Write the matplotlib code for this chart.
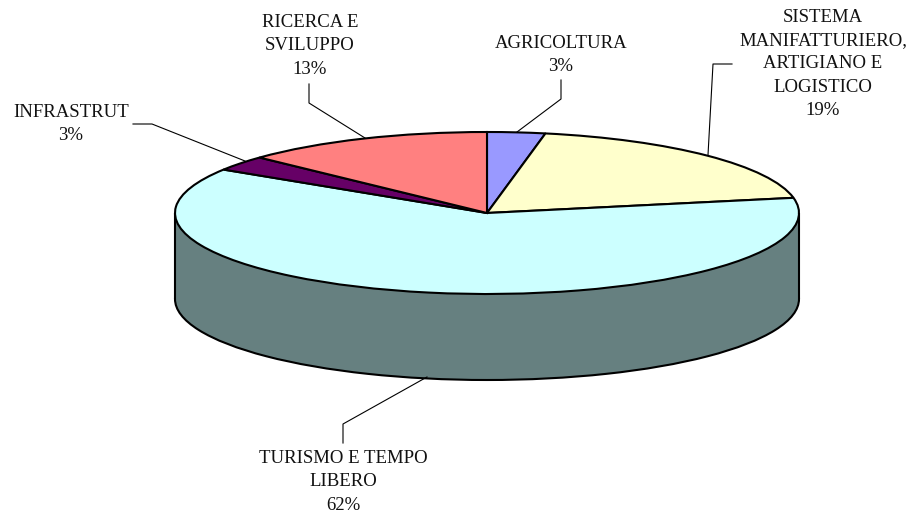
#!/usr/bin/env python3
import matplotlib
matplotlib.use('Agg')
import matplotlib.pyplot as plt
from matplotlib.patches import Rectangle

W, H = 916, 521
DPI = 100

categories = ['AGRICOLTURA', 'SISTEMA\nMANIFATTURIERO,\nARTIGIANO E\nLOGISTICO',
              'TURISMO E TEMPO\nLIBERO', 'INFRASTRUT', 'RICERCA E\nSVILUPPO']
values = [3, 19, 62, 3, 13]
slice_colors = ['#9999FF', '#FFFFCC', '#CCFFFF', '#660066', '#FF8080']
side_color = '#668080'

plt.rcParams['font.family'] = ['Liberation Serif', 'DejaVu Sans']
fs = 13.5
edge = {'edgecolor': 'black', 'linewidth': 1.5, 'clip_on': False}

fig = plt.figure(figsize=(W / DPI, H / DPI), dpi=DPI)

# pie box in pixels: x 175-799, top face y 132-294, bottom of the wall y 380
left, right, top, mid, bottom = 175, 799, 132, 213, 380
ry = mid - top
depth = (bottom - mid - ry) / ry
ax = fig.add_axes([left / W, 1 - bottom / H, (right - left) / W, (bottom - top) / H])

# the wall is a second pie shifted down, joined to the top by a rectangle
ax.pie([1], colors=[side_color], center=(0, -depth), startangle=90, wedgeprops=edge)
ax.add_patch(Rectangle((-1, -depth), 2, depth, facecolor=side_color, edgecolor='none'))
ax.vlines([-1, 1], -depth, 0, color='black', linewidth=1.5, clip_on=False)
ax.pie(values, colors=slice_colors, startangle=90, counterclock=False, wedgeprops=edge)
ax.set_aspect('auto')
ax.set_xlim(-1, 1)
ax.set_ylim(-1 - depth, 1)

# overlay in pixel coordinates for labels and leader lines
ov = fig.add_axes([0, 0, 1, 1])
ov.set_xlim(0, W)
ov.set_ylim(H, 0)
ov.axis('off')
ov.patch.set_alpha(0)

label_x = [561, 823, 343, 71, 310]
label_y = [55, 64, 482, 124, 46]
for name, v, x, y in zip(categories, values, label_x, label_y):
    ov.text(x, y, '%s\n%d%%' % (name, v), ha='center', va='center', fontsize=fs,
            linespacing=1.47, color='#111111')

leaders = [
    ([561, 561, 517], [80, 99, 132]),
    ([732, 713, 708], [64, 64, 155]),
    ([343, 343, 427], [443, 424, 377]),
    ([133, 152, 245], [124, 124, 161]),
    ([309, 309, 365], [84, 103, 138]),
]
for xs, ys in leaders:
    ov.plot(xs, ys, color='black', linewidth=0.8)

fig.savefig('out.png', dpi=DPI)
plt.close(fig)
